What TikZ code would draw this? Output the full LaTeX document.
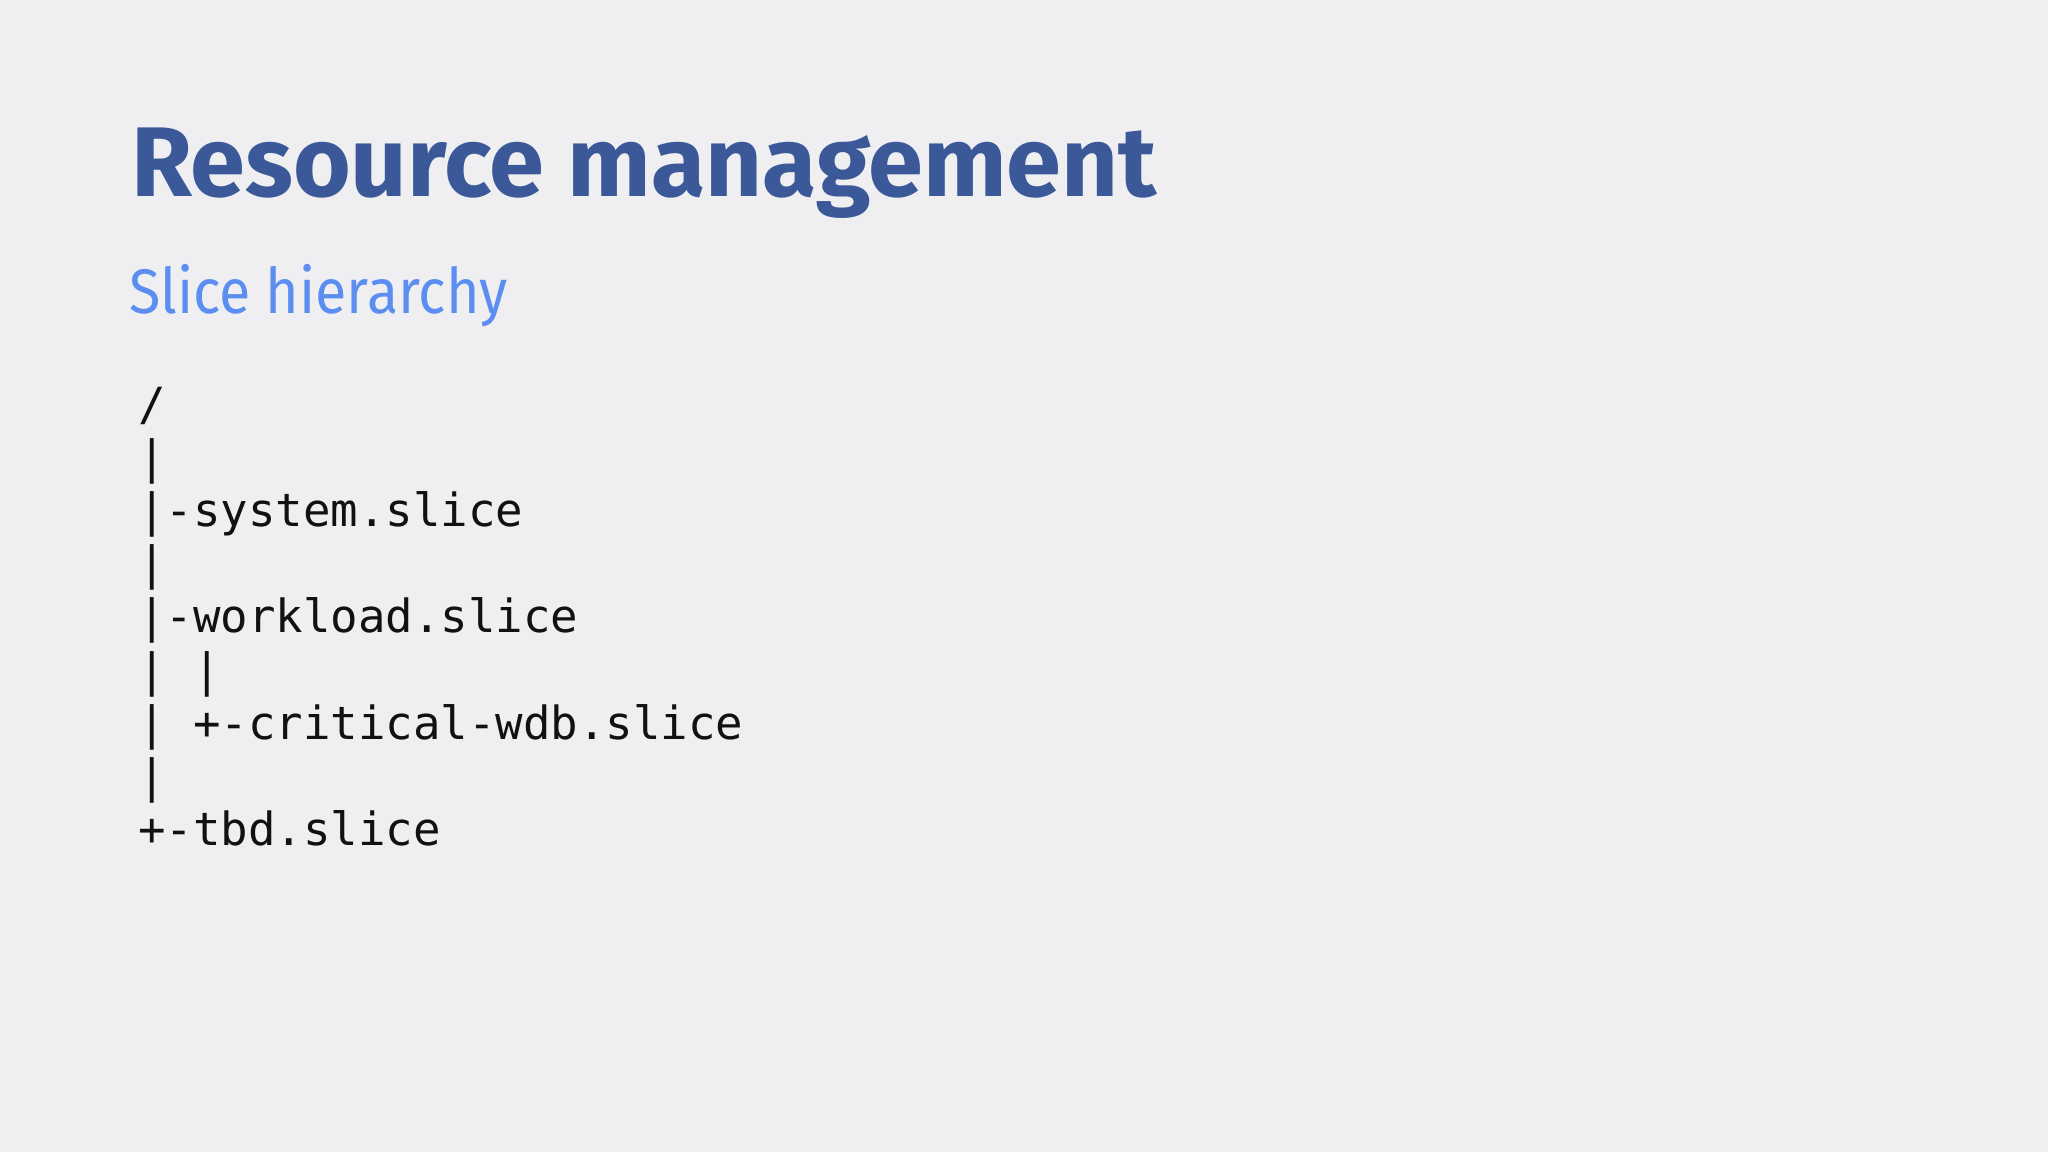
\documentclass[tikz,border=0pt]{standalone}
\usepackage{fontspec}
\setmainfont{Fira Sans}
\newfontfamily\subfont[FakeStretch=0.91]{Fira Sans}
\newfontfamily\codefont{DejaVu Sans Mono}
\definecolor{bgc}{HTML}{EFEFF2}
\definecolor{titlec}{HTML}{3B5998}
\definecolor{subc}{HTML}{5B8EF0}
\definecolor{codec}{HTML}{111111}
\begin{document}
\begin{tikzpicture}[x=1pt,y=-1pt,
  every node/.style={inner sep=0pt,outer sep=0pt,anchor=base west},
  titlestyle/.style={font=\fontsize{99}{105}\selectfont\bfseries,text=titlec},
  substyle/.style={font=\subfont\fontsize{63}{70}\selectfont,text=subc},
  codestyle/.style={font=\codefont\fontsize{45.7}{53}\selectfont,text=codec}]
\fill[bgc] (0,0) rectangle (2048,1152);
\useasboundingbox (0,0) rectangle (2048,1152);
\node[titlestyle] (title) at (131,196) {Resource management};
\node[substyle] (sub) at (129,313) {Slice hierarchy};
\node[codestyle] (l1) at (138,420) {/};
\node[codestyle] (l2) at (138,473.2) {|};
\node[codestyle] (l3) at (138,526.4) {|-system.slice};
\node[codestyle] (l4) at (138,579.6) {|};
\node[codestyle] (l5) at (138,632.8) {|-workload.slice};
\node[codestyle] (l6) at (138,686) {|\ |};
\node[codestyle] (l7) at (138,739.2) {|\ +-critical-wdb.slice};
\node[codestyle] (l8) at (138,792.4) {|};
\node[codestyle] (l9) at (138,845.6) {+-tbd.slice};
\end{tikzpicture}
\end{document}
